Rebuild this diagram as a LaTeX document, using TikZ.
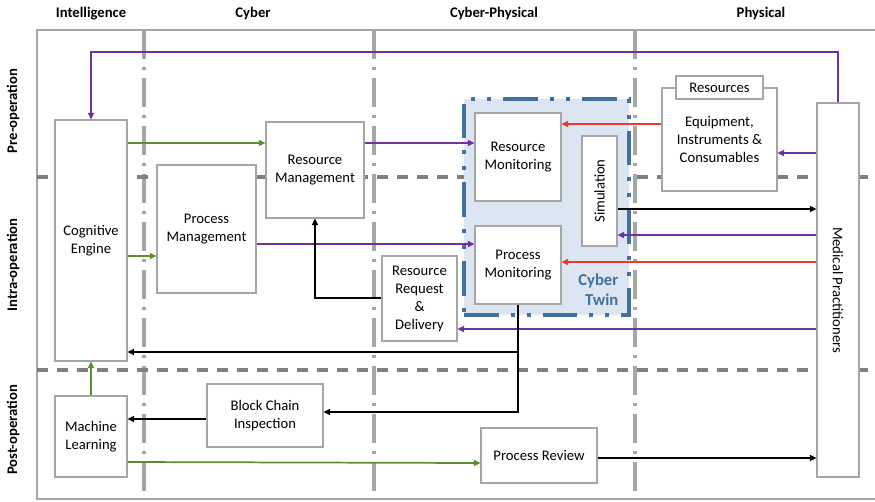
\documentclass[tikz,border=0pt]{standalone}
\usepackage{fontspec}
\setmainfont{Carlito}
\usetikzlibrary{arrows.meta,positioning,calc}

\definecolor{ctpurple}{HTML}{7030A0}
\definecolor{ctgreen}{HTML}{5B8F2E}
\definecolor{ctred}{HTML}{E8392C}
\definecolor{ctgrid}{HTML}{A6A6A6}
\definecolor{ctdash}{HTML}{7F7F7F}
\definecolor{ctblue}{HTML}{41719C}
\definecolor{ctfill}{HTML}{DCE6F2}

\begin{document}
\begin{tikzpicture}[
    x=0.75pt, y=-0.75pt,
    font=\fontsize{11}{13.5}\selectfont,
    blk/.style={draw=ctgrid, line width=0.8pt, fill=white, rectangle, align=center, inner sep=1pt},
    head/.style={font=\fontsize{11}{13.5}\selectfont\bfseries},
    vline/.style={draw=ctgrid, line width=2.5pt, dash pattern=on 22pt off 6pt on 2pt off 6pt},
    hline/.style={draw=ctdash, line width=2.5pt, dash pattern=on 8pt off 7pt},
    edge/.style={-{Triangle[length=5pt,width=4.5pt]}, line width=1.3pt},
    parr/.style={edge, draw=ctpurple},
    garr/.style={edge, draw=ctgreen},
    rarr/.style={edge, draw=ctred},
    barr/.style={edge, draw=black},
    twin/.style={draw=ctblue, fill=ctfill, line width=3pt, dash pattern=on 26pt off 9pt on 3pt off 9pt on 3pt off 9pt},
]
\useasboundingbox (0,0) rectangle (875,501);

% Frame and swimlanes
\draw[draw=ctgrid, line width=0.8pt] (875,30) -- (37,30) -- (37,499) -- (875,499);
\foreach \xx in {144,374,635}
  \draw[vline] (\xx,30) -- (\xx,499);
\foreach \yy in {177,370}
  \draw[hline] (37,\yy) -- (875,\yy);

% Column headers
\node[head] (hint) at (91,14) {Intelligence};
\node[head] (hcyb) at (253,14) {Cyber};
\node[head] (hcps) at (494,14) {Cyber-Physical};
\node[head] (hphy) at (761,14) {Physical};

% Row headers
\node[head, rotate=90] (rpre) at (13,111) {Pre-operation};
\node[head, rotate=90] (rintra) at (13,265) {Intra-operation};
\node[head, rotate=90] (rpost) at (13,430) {Post-operation};

% Cyber twin
\node[twin, minimum width=123.75pt, minimum height=162pt] (ctw) at (546.5,207) {};
\node[font=\fontsize{12.5}{15}\selectfont\bfseries, text=ctblue, align=right, anchor=east] (ctwl) at (623,290) {Cyber\\Twin};

% Blocks
\node[blk, minimum width=54pt, minimum height=180.75pt] (ce) at (91,240.5) {Cognitive\\Engine};
\node[blk, minimum width=74.25pt, minimum height=96pt] (pm) at (206.5,229) {Process\\Management};
\node[blk, minimum width=73.5pt, minimum height=72pt] (rm) at (315,170) {Resource\\Management};
\node[blk, minimum width=54pt, minimum height=60.75pt] (ml) at (91,436.5) {Machine\\Learning};
\node[blk, minimum width=87pt, minimum height=47.25pt] (bc) at (265,415.5) {Block Chain\\Inspection};
\node[blk, minimum width=56.25pt, minimum height=63.75pt] (rd) at (419.5,298.5) {Resource\\Request\\\&\\Delivery};
\node[blk, minimum width=64.5pt, minimum height=66pt] (rmon) at (518,157) {Resource\\Monitoring};
\node[blk, minimum width=64.5pt, minimum height=58.5pt] (pmon) at (518,265) {Process\\Monitoring};
\node[blk, rotate=90, minimum width=82.5pt, minimum height=26.25pt] (sim) at (599.5,191) {Simulation};
\node[blk, minimum width=86.25pt, minimum height=77.25pt] (eq) at (719.5,139.5) {Equipment,\\Instruments \&\\Consumables};
\node[blk, minimum width=65.25pt, minimum height=17.25pt] (res) at (719.5,87.5) {Resources};
\node[blk, rotate=-90, minimum width=280.5pt, minimum height=31.5pt] (mp) at (838,290) {Medical Practitioners};
\node[blk, minimum width=87pt, minimum height=41.25pt] (pr) at (539,455.5) {Process Review};

% Connectors
\draw[parr] (mp.west) |- (ce.north |- 0,52) -- (ce.north);
\draw[garr] (ce.east |- 0,143) -- (rm.west |- 0,143);
\draw[garr] (ce.east |- 0,256) -- (pm.west |- 0,256);
\draw[parr] (rm.east |- 0,143) -- (rmon.west |- 0,143);
\draw[parr] (pm.east |- 0,244) -- (pmon.west |- 0,244);
\draw[rarr] (eq.west |- 0,124) -- (rmon.east |- 0,124);
\draw[parr] (mp.south |- 0,153) -- (eq.east |- 0,153);
\draw[barr] (sim.south |- 0,209) -- (mp.south |- 0,209);
\draw[parr] (mp.south |- 0,235) -- (sim.south |- 0,235);
\draw[rarr] (mp.south |- 0,262) -- (pmon.east |- 0,262);
\draw[parr] (mp.south |- 0,329) -- (rd.east |- 0,329);
\draw[barr] (rd.west |- 0,298) -| (rm.south);
\draw[barr] (pmon.south) |- (ce.east |- 0,352);
\draw[barr] (pmon.south) |- (bc.east |- 0,412);
\draw[barr] (bc.west |- 0,419) -- (ml.east |- 0,419);
\draw[garr] (ml.north) -- (ce.south);
\draw[garr] (ml.east |- 0,462) -- (pr.west |- 0,463);
\draw[barr] (pr.east |- 0,458) -- (mp.south |- 0,458);

\end{tikzpicture}
\end{document}
